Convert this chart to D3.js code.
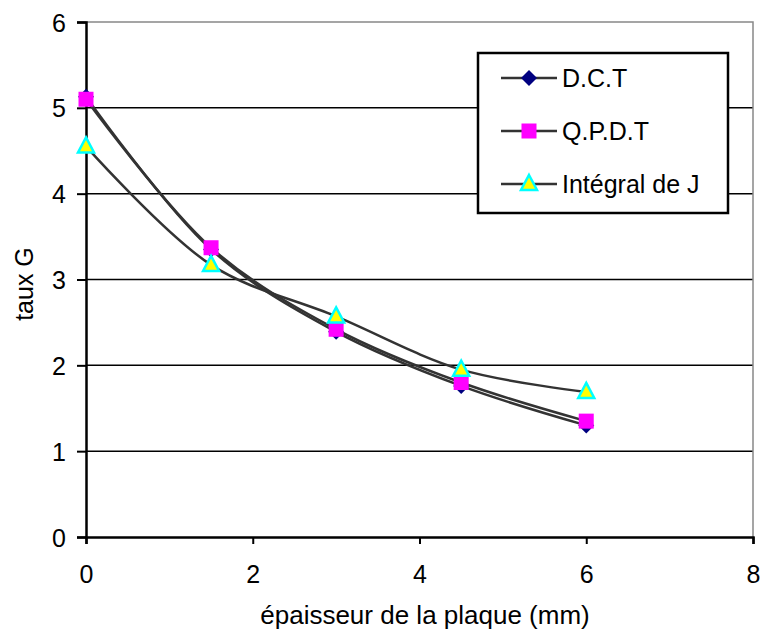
<!DOCTYPE html>
<html lang="fr">
<head>
<meta charset="utf-8">
<title>taux G</title>
<script src="https://cdnjs.cloudflare.com/ajax/libs/d3/7.8.5/d3.min.js"></script>
<style>
  body { margin: 0; background: #fff; }
  text { font-family: "Liberation Sans", Arial, sans-serif; }
</style>
</head>
<body>
<script>
// data
var epaisseur = [0, 1.5, 3, 4.5, 6];
var dct = [5.13, 3.35, 2.39, 1.76, 1.30];
var qpdt = [5.10, 3.37, 2.42, 1.80, 1.35];
var integralJ = [4.55, 3.17, 2.57, 1.95, 1.69];
var seriesNames = ["D.C.T", "Q.P.D.T", "Intégral de J"];
var xTicks = [0, 2, 4, 6, 8];
var yTicks = [0, 1, 2, 3, 4, 5, 6];

var w = 760, h = 634;
var padL = 86, padR = 753, padT = 22, padB = 537;

var svg = d3.select("body").append("svg")
    .attr("width", w)
    .attr("height", h);

var xScale = d3.scaleLinear().domain([0, 8]).range([padL, padR]);
var yScale = d3.scaleLinear().domain([0, 6]).range([padB, padT]);

// gridlines
svg.append("g").selectAll("line")
    .data(yTicks.filter(function (d) { return d > 0 && d < 6; }))
    .enter().append("line")
    .attr("x1", padL).attr("x2", padR)
    .attr("y1", function (d) { return yScale(d); })
    .attr("y2", function (d) { return yScale(d); })
    .attr("stroke", "#000").attr("stroke-width", 1.5);

// plot border top/right (gray)
svg.append("path")
    .attr("d", "M" + padL + "," + yScale(6) + "H" + padR + "V" + padB)
    .attr("fill", "none").attr("stroke", "#888").attr("stroke-width", 1.5);

// axes
var xAxis = svg.append("g")
    .attr("transform", "translate(0," + padB + ")")
    .call(d3.axisBottom(xScale).tickValues(xTicks).tickFormat(d3.format("d")).tickSize(7));
var yAxis = svg.append("g")
    .attr("transform", "translate(" + padL + ",0)")
    .call(d3.axisLeft(yScale).tickValues(yTicks).tickFormat(d3.format("d")).tickSize(9));

[xAxis, yAxis].forEach(function (a) {
    a.attr("font-size", null).attr("font-family", null);
    a.select(".domain").attr("stroke", "#000").attr("stroke-width", 2.5);
    a.selectAll(".tick line").attr("stroke", "#000").attr("stroke-width", 2);
    a.selectAll(".tick text").attr("font-size", "25px").attr("fill", "#000");
});
xAxis.selectAll(".tick text").attr("dy", null).attr("y", 46);
yAxis.selectAll(".tick text").attr("x", -20).attr("dy", "0.36em");

// axis titles
svg.append("text")
    .attr("x", 425).attr("y", 624)
    .attr("text-anchor", "middle").attr("font-size", "26px")
    .text("épaisseur de la plaque (mm)");
svg.append("text")
    .attr("transform", "translate(33,284) rotate(-90)")
    .attr("text-anchor", "middle").attr("font-size", "25px")
    .text("taux G");

// lines
var series = [dct, qpdt, integralJ];
var line = d3.line()
    .x(function (d, i) { return xScale(epaisseur[i]); })
    .y(function (d) { return yScale(d); })
    .curve(d3.curveCatmullRom.alpha(0.5));

series.forEach(function (s) {
    svg.append("path")
        .datum(s)
        .attr("d", line)
        .attr("fill", "none")
        .attr("stroke", "#333")
        .attr("stroke-width", 2.5);
});

// markers
function marker(g, k, x, y) {
    if (k === 0) {
        g.append("path")
            .attr("d", "M0,-8L8,0L0,8L-8,0Z")
            .attr("transform", "translate(" + x + "," + y + ")")
            .attr("fill", "#000080");
    } else if (k === 1) {
        g.append("rect")
            .attr("x", x - 7.5).attr("y", y - 7.5)
            .attr("width", 15).attr("height", 15)
            .attr("fill", "#ff00ff");
    } else {
        g.append("path")
            .attr("d", "M0,-9L8,6L-8,6Z")
            .attr("transform", "translate(" + x + "," + y + ")")
            .attr("fill", "#ffff00").attr("stroke", "#00ffff").attr("stroke-width", 2.5);
    }
}

var mg = svg.append("g");
series.forEach(function (s, k) {
    s.forEach(function (v, i) {
        marker(mg, k, xScale(epaisseur[i]), yScale(v));
    });
});

// legend
var lg = svg.append("g");
lg.append("rect")
    .attr("x", 478).attr("y", 53).attr("width", 250).attr("height", 160)
    .attr("fill", "#fff").attr("stroke", "#000").attr("stroke-width", 2.5);
var rowY = [78, 131, 184];
seriesNames.forEach(function (name, k) {
    lg.append("line")
        .attr("x1", 501).attr("x2", 557)
        .attr("y1", rowY[k]).attr("y2", rowY[k])
        .attr("stroke", "#333").attr("stroke-width", 2.5);
    marker(lg, k, 529, rowY[k]);
    lg.append("text")
        .attr("x", 562).attr("y", rowY[k] + 9)
        .attr("font-size", "25px")
        .text(name);
});
</script>
</body>
</html>
